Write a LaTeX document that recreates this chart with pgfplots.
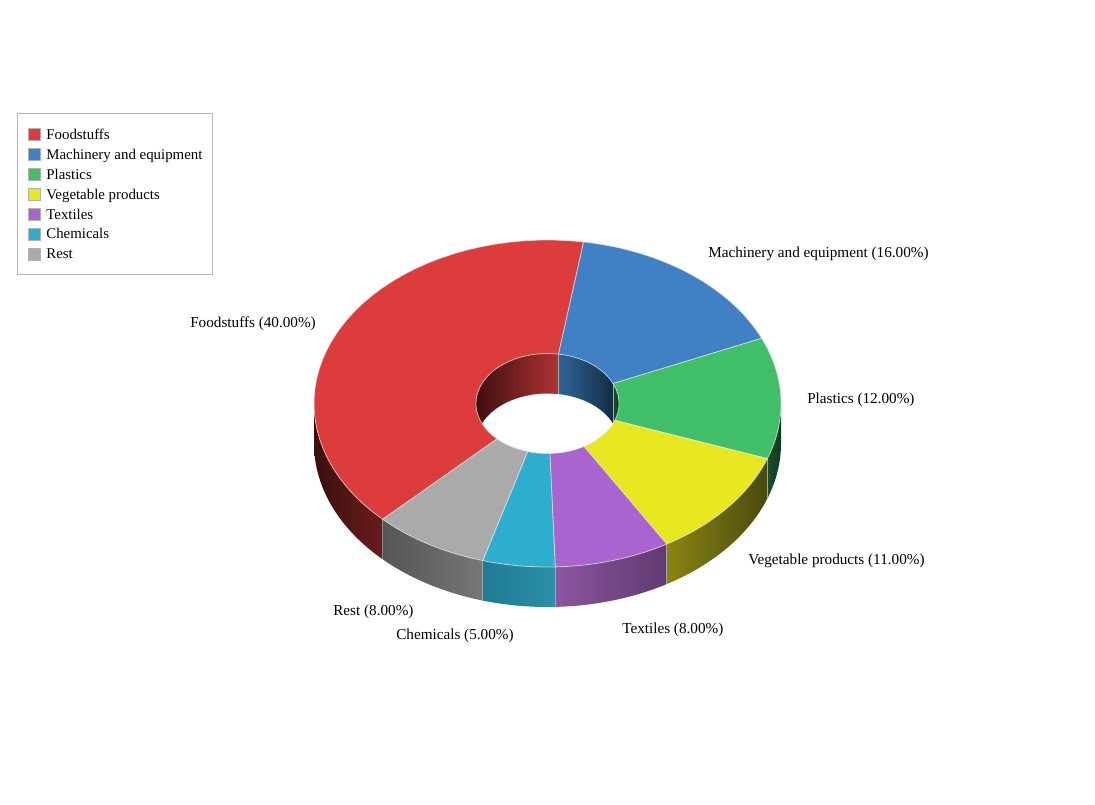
\documentclass[border=0pt]{standalone}
\usepackage{pgfplots}
\usepackage{pgfplotstable}
\pgfplotsset{compat=1.18}
\usepackage{fontspec}
\setmainfont{Liberation Serif}

% shares in percent, clockwise, first slice starts at 224.9 deg from the top
\pgfplotstableread{
name value
Foodstuffs 40
Machinery 16
Plastics 12
Vegetable 11
Textiles 8
Chemicals 5
Rest 8
}\shares

\definecolor{sl0}{HTML}{DD3C3C}
\definecolor{sl1}{HTML}{4080C4}
\definecolor{sl2}{HTML}{40BE68}
\definecolor{sl3}{HTML}{E8E820}
\definecolor{sl4}{HTML}{AA64D0}
\definecolor{sl5}{HTML}{2EAECF}
\definecolor{sl6}{HTML}{AAAAAA}
% outer wall, left and right end of the gradient
\definecolor{ol0}{HTML}{3A0F0F}\definecolor{or0}{HTML}{6A1C1C}
\definecolor{ol1}{HTML}{142C45}\definecolor{or1}{HTML}{142C45}
\definecolor{ol2}{HTML}{1C5030}\definecolor{or2}{HTML}{0E3A20}
\definecolor{ol3}{HTML}{8A8510}\definecolor{or3}{HTML}{4A4A10}
\definecolor{ol4}{HTML}{8D55A0}\definecolor{or4}{HTML}{5F3A70}
\definecolor{ol5}{HTML}{217A93}\definecolor{or5}{HTML}{2A90A8}
\definecolor{ol6}{HTML}{555555}\definecolor{or6}{HTML}{777777}
% inner wall
\definecolor{il0}{HTML}{3F0F10}\definecolor{ir0}{HTML}{B03232}
\definecolor{il1}{HTML}{2F6598}\definecolor{ir1}{HTML}{142C45}
\definecolor{il2}{HTML}{1A5030}\definecolor{ir2}{HTML}{0F3A20}
\definecolor{il3}{HTML}{808010}\definecolor{ir3}{HTML}{808010}
\definecolor{il4}{HTML}{704080}\definecolor{ir4}{HTML}{704080}
\definecolor{il5}{HTML}{207080}\definecolor{ir5}{HTML}{207080}
\definecolor{il6}{HTML}{666666}\definecolor{ir6}{HTML}{666666}

\newcommand\cx{547.5}
\newcommand\cy{403.5}
\newcommand\depth{40}

% ring piece between two elliptical arcs: a, b, rx1, ry1, y1, rx2, ry2, y2, style
\newcommand\band[9]{%
  \addplot[forget plot, no markers, #9, variable=\t, domain=0:81, samples=82]
  ({\cx+(\t<40.5 ? #3 : #6)*sin(\t<40.5 ? #1+(#2-#1)*\t/40 : #2-(#2-#1)*(\t-41)/40)},
   {(\t<40.5 ? #5 : #8)-(\t<40.5 ? #4 : #7)*cos(\t<40.5 ? #1+(#2-#1)*\t/40 : #2-(#2-#1)*(\t-41)/40)}) -- cycle;
}

% one pass over the walls: rx, ry, visible from, visible to, colour prefix left, right
\newcommand\walls[6]{%
  \pgfmathsetmacro\a{224.9}%
  \pgfplotsforeachungrouped \i in {0,...,6}{%
    \pgfplotstablegetelem{\i}{value}\of\shares
    \pgfmathsetmacro\b{\a+3.6*\pgfplotsretval}%
    \pgfmathsetmacro\lo{max(\a,#3)}%
    \pgfmathsetmacro\hi{min(\b,#4)}%
    \pgfmathtruncatemacro\vis{\hi>\lo}%
    \ifnum\vis=1
      \pgfmathsetmacro\ylow{\cy+\depth}%
      \edef\tmp{\noexpand\band{\lo}{\hi}{#1}{#2}{\cy}{#1}{#2}{\ylow}{draw=none, left color=#5\i, right color=#6\i}}%
      \tmp
    \fi
    \pgfmathtruncatemacro\hasedge{(\a>=#3)&&(\a<=#4)}%
    \ifnum\hasedge=1
      \pgfmathsetmacro\ex{\cx+#1*sin(\a)}%
      \pgfmathsetmacro\eya{\cy-#2*cos(\a)}%
      \pgfmathsetmacro\eyb{\cy+\depth-#2*cos(\a)}%
      \edef\tmp{\noexpand\addplot[forget plot, no markers, color=gray!70, line width=0.6pt] coordinates {(\ex,\eya) (\ex,\eyb)};}%
      \tmp
    \fi
    \let\a\b
  }%
}

\begin{document}
\begin{tikzpicture}
\begin{axis}[
  scale only axis, width=821.25pt, height=603.75pt,
  xmin=0, xmax=1095, ymin=0, ymax=805, y dir=reverse,
  hide axis, clip=false,
  legend cell align=left,
  legend image code/.code={\draw[#1] (0pt,-0.9pt) rectangle (9pt,8.1pt); \path (13pt,0pt) (0pt,-3.1pt) (0pt,11.1pt);},
  legend style={at={(axis cs:17,113)}, anchor=north west, draw=gray!55,
    line width=0.75pt, font=\fontsize{11.15pt}{12pt}\selectfont,
    inner xsep=7.9pt, inner ysep=7.9pt, row sep=0pt,
    nodes={inner sep=0pt, anchor=base west}},
]
\addlegendimage{fill=sl0, draw=gray!60}\addlegendentry{Foodstuffs}
\addlegendimage{fill=sl1, draw=gray!60}\addlegendentry{Machinery and equipment}
\addlegendimage{fill=sl2, draw=gray!60}\addlegendentry{Plastics}
\addlegendimage{fill=sl3, draw=gray!60}\addlegendentry{Vegetable products}
\addlegendimage{fill=sl4, draw=gray!60}\addlegendentry{Textiles}
\addlegendimage{fill=sl5, draw=gray!60}\addlegendentry{Chemicals}
\addlegendimage{fill=sl6, draw=gray!60}\addlegendentry{Rest}

% keep the whole canvas in the page
\path (axis cs:0,0) (axis cs:1095,805);

% outer walls, front half only
\walls{233.5}{163.5}{90}{270}{ol}{or}
\walls{233.5}{163.5}{450}{630}{ol}{or}
% inner walls, back half only
\walls{71.5}{50}{270}{450}{il}{ir}

% top face goes last and hides what sticks out of the walls
\pgfmathsetmacro\a{224.9}
\pgfplotsforeachungrouped \i in {0,...,6}{%
  \pgfplotstablegetelem{\i}{value}\of\shares
  \pgfmathsetmacro\b{\a+3.6*\pgfplotsretval}%
  \edef\tmp{\noexpand\band{\a}{\b}{233.5}{163.5}{\cy}{71.5}{50}{\cy}{fill=sl\i, draw=white!90!black, draw opacity=0.7, line width=0.6pt}}%
  \tmp
  \let\a\b
}

\tikzset{lab/.style={anchor=base west, inner sep=0pt, font=\fontsize{11.4pt}{13pt}\selectfont}}
\node[lab] at (axis cs:708,257.5) {Machinery and equipment (16.00\%)};
\node[lab] at (axis cs:807,403) {Plastics (12.00\%)};
\node[lab] at (axis cs:190,327.5) {Foodstuffs (40.00\%)};
\node[lab] at (axis cs:748,564) {Vegetable products (11.00\%)};
\node[lab] at (axis cs:622,633) {Textiles (8.00\%)};
\node[lab] at (axis cs:333,615) {Rest (8.00\%)};
\node[lab] at (axis cs:396,639) {Chemicals (5.00\%)};
\end{axis}
\end{tikzpicture}
\end{document}
